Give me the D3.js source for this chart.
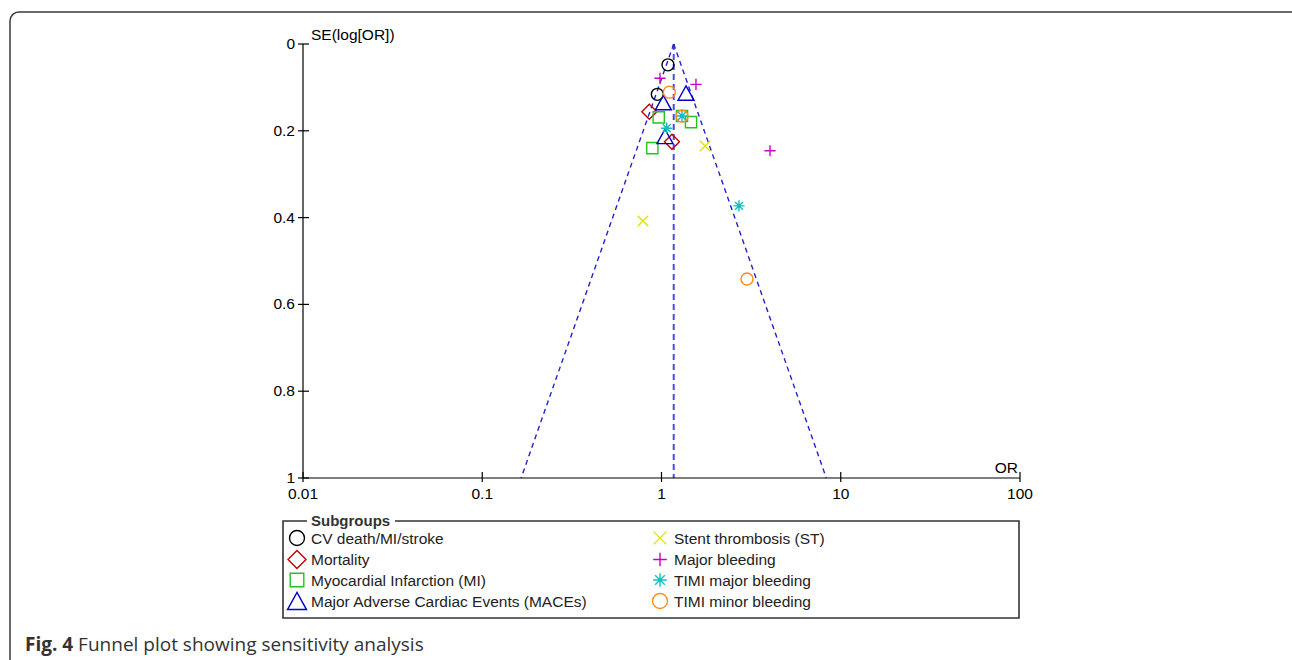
<!DOCTYPE html>
<html>
<head>
<meta charset="utf-8">
<script src="https://cdn.jsdelivr.net/npm/d3@7"></script>
<style>
  body { margin: 0; background: #fff; }
  svg text { font-family: "Liberation Sans", Arial, sans-serif; }
</style>
</head>
<body>
<script>
// Funnel plot: sensitivity analysis by subgroup
var groupNames = [
  "CV death/MI/stroke",
  "Mortality",
  "Myocardial Infarction (MI)",
  "Major Adverse Cardiac Events (MACEs)",
  "Stent thrombosis (ST)",
  "Major bleeding",
  "TIMI major bleeding",
  "TIMI minor bleeding"
];
var groupSymbols = ["circle", "diamond", "square", "triangle", "cross", "plus", "star", "circle"];
var groupColors = ["#000000", "#c40000", "#22c322", "#0000c8", "#e2e200", "#cc00cc", "#13bdbd", "#ff8c1e"];

// odds ratio and SE(log OR) for every study, per subgroup
var cvOR = [1.087, 0.948];
var cvSE = [0.048, 0.116];
var mortOR = [0.855, 1.144];
var mortSE = [0.156, 0.225];
var miOR = [0.965, 1.301, 1.461, 0.889];
var miSE = [0.169, 0.166, 0.180, 0.240];
var maceOR = [1.37, 1.024, 1.046];
var maceSE = [0.113, 0.135, 0.213];
var stOR = [1.749, 0.788];
var stSE = [0.235, 0.408];
var mbOR = [0.981, 1.557, 4.03];
var mbSE = [0.079, 0.093, 0.246];
var timiMajOR = [1.301, 1.069, 2.706];
var timiMajSE = [0.166, 0.194, 0.373];
var timiMinOR = [1.106, 1.301, 3.0];
var timiMinSE = [0.111, 0.166, 0.5415];

var pooledOR = 1.17;  // summary estimate (funnel apex)
var xTicks = [0.01, 0.1, 1, 10, 100];
var yTicks = [0, 0.2, 0.4, 0.6, 0.8, 1];

var groupOR = [cvOR, mortOR, miOR, maceOR, stOR, mbOR, timiMajOR, timiMinOR];
var groupSE = [cvSE, mortSE, miSE, maceSE, stSE, mbSE, timiMajSE, timiMinSE];

var svg = d3.select("body").append("svg")
  .attr("width", 1292)
  .attr("height", 660);

// outer frame of the figure
svg.append("rect")
  .attr("x", 10).attr("y", 12)
  .attr("width", 1300).attr("height", 700)
  .attr("rx", 9)
  .attr("fill", "none")
  .attr("stroke", "#3a3a3a")
  .attr("stroke-width", 1.5);

var x = d3.scaleLog().domain([0.01, 100]).range([303, 1020]);
var y = d3.scaleLinear().domain([0, 1]).range([44, 478]);

// funnel limits (95%)
var z = 1.96;
var lp = Math.log(pooledOR);
var funnel = svg.append("g");
funnel.append("line")
  .attr("x1", x(pooledOR)).attr("y1", y(0))
  .attr("x2", x(pooledOR)).attr("y2", y(1))
  .attr("stroke", "#4a4ae0")
  .attr("stroke-width", 2)
  .attr("stroke-dasharray", "6,4");
[-1, 1].forEach(function (s) {
  funnel.append("line")
    .attr("x1", x(pooledOR)).attr("y1", y(0))
    .attr("x2", x(Math.exp(lp + s * z * 1))).attr("y2", y(1))
    .attr("stroke", "#2323cc")
    .attr("stroke-width", 1.4)
    .attr("stroke-dasharray", "5,4");
});

// x axis
var gx = svg.append("g");
gx.append("line")
  .attr("x1", x(0.01)).attr("x2", x(100))
  .attr("y1", y(1)).attr("y2", y(1))
  .attr("stroke", "#000").attr("stroke-width", 1.2);
gx.selectAll(".xt").data(xTicks).enter().append("line")
  .attr("x1", function (d) { return x(d); })
  .attr("x2", function (d) { return x(d); })
  .attr("y1", y(1) - 6).attr("y2", y(1) + 4)
  .attr("stroke", "#000").attr("stroke-width", 1.2);
gx.selectAll(".xl").data(xTicks).enter().append("text")
  .attr("x", function (d) { return x(d); })
  .attr("y", y(1) + 21)
  .attr("text-anchor", "middle")
  .attr("font-size", 15.5)
  .text(function (d) { return d; });
gx.append("text")
  .attr("x", 1018).attr("y", 473)
  .attr("text-anchor", "end")
  .attr("font-size", 15.5)
  .text("OR");

// y axis
var gy = svg.append("g");
gy.append("line")
  .attr("x1", 303).attr("x2", 303)
  .attr("y1", y(0)).attr("y2", y(1))
  .attr("stroke", "#000").attr("stroke-width", 1.2);
gy.selectAll(".yt").data(yTicks).enter().append("line")
  .attr("x1", 298).attr("x2", 309)
  .attr("y1", function (d) { return y(d); })
  .attr("y2", function (d) { return y(d); })
  .attr("stroke", "#000").attr("stroke-width", 1.2);
gy.selectAll(".yl").data(yTicks).enter().append("text")
  .attr("x", 295)
  .attr("y", function (d) { return y(d) + 5; })
  .attr("text-anchor", "end")
  .attr("font-size", 15.5)
  .text(function (d) { return d; });
gy.append("text")
  .attr("x", 311).attr("y", 40)
  .attr("font-size", 15.5)
  .text("SE(log[OR])");

// marker shapes, s = overall size
function shapePath(sym, s) {
  var h = s / 2;
  if (sym == "circle") return "M" + h + ",0A" + h + "," + h + " 0 1,1 " + (-h) + ",0A" + h + "," + h + " 0 1,1 " + h + ",0Z";
  if (sym == "diamond") return "M0," + (-h) + "L" + h + ",0L0," + h + "L" + (-h) + ",0Z";
  if (sym == "square") { var q = h * 0.8; return "M" + (-q) + "," + (-q) + "H" + q + "V" + q + "H" + (-q) + "Z"; }
  if (sym == "triangle") { var t = h * 0.9; return "M0," + (-t) + "L" + h + "," + t + "L" + (-h) + "," + t + "Z"; }
  if (sym == "cross") { var c = h * 0.75; return "M" + (-c) + "," + (-c) + "L" + c + "," + c + "M" + (-c) + "," + c + "L" + c + "," + (-c); }
  if (sym == "plus") { var p = h * 0.8; return "M" + (-p) + ",0H" + p + "M0," + (-p) + "V" + p; }
  if (sym == "star") {
    var r = h * 0.8, k = r * Math.SQRT1_2;
    return "M" + (-r) + ",0H" + r + "M0," + (-r) + "V" + r +
      "M" + (-k) + "," + (-k) + "L" + k + "," + k + "M" + (-k) + "," + k + "L" + k + "," + (-k);
  }
}
var markSize = { circle: 12, diamond: 15, square: 14, triangle: 16, cross: 14, plus: 14, star: 14 };

// study points
var pts = svg.append("g");
groupNames.forEach(function (name, gi) {
  var rows = groupOR[gi].map(function (v, i) { return { or: v, se: groupSE[gi][i] }; });
  pts.selectAll(".p" + gi).data(rows).enter().append("path")
    .attr("class", "p" + gi)
    .attr("transform", function (d) { return "translate(" + x(d.or) + "," + y(d.se) + ")"; })
    .attr("d", shapePath(groupSymbols[gi], markSize[groupSymbols[gi]]))
    .attr("fill", "none")
    .attr("stroke", groupColors[gi])
    .attr("stroke-width", 1.4);
});

// legend
var lg = svg.append("g");
lg.append("path")
  .attr("d", "M307,521H283V618H1019V521H395")
  .attr("fill", "none")
  .attr("stroke", "#333")
  .attr("stroke-width", 1.6);
lg.append("text")
  .attr("x", 311).attr("y", 526)
  .attr("font-size", 15)
  .attr("font-weight", "bold")
  .attr("fill", "#333")
  .text("Subgroups");
var rowY = [538, 559.5, 580, 601];
groupNames.forEach(function (name, gi) {
  var col = gi < 4 ? 0 : 1;
  var sx = col == 0 ? 297 : 660;
  var ty = rowY[gi % 4];
  var sz = markSize[groupSymbols[gi]] + 3;
  lg.append("path")
    .attr("transform", "translate(" + sx + "," + ty + ")")
    .attr("d", shapePath(groupSymbols[gi], sz))
    .attr("fill", "none")
    .attr("stroke", groupColors[gi])
    .attr("stroke-width", 1.4);
  lg.append("text")
    .attr("x", sx + 14).attr("y", ty + 5.5)
    .attr("font-size", 15.5)
    .attr("fill", "#222")
    .text(name);
});

// caption
var cap = svg.append("text")
  .attr("x", 25).attr("y", 651)
  .attr("font-family", "'Open Sans', sans-serif")
  .attr("font-size", 19)
  .attr("fill", "#333");
cap.append("tspan").attr("font-weight", "bold").style("font-family", "'Open Sans', sans-serif").text("Fig. 4");
cap.append("tspan").style("font-family", "'Open Sans', sans-serif").text(" Funnel plot showing sensitivity analysis");
</script>
</body>
</html>
